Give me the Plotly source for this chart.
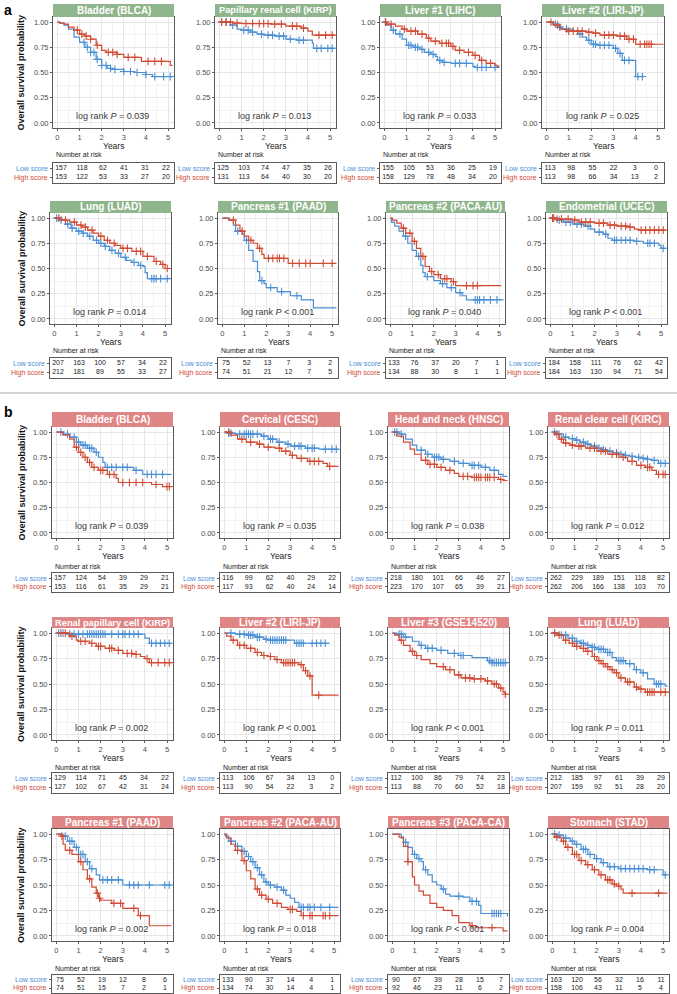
import plotly.graph_objects as go

W, H = 677, 994
BLUE = "#4A8FD4"
RED = "#D14A33"
GREEN = "#8FB58C"
PINK = "#E08585"
FONT = "Liberation Sans, Arial, Helvetica, sans-serif"

YEARS = [0, 1, 2, 3, 4, 5]
Y_TICKS = [0, 0.25, 0.5, 0.75, 1.0]
Y_TICK_LABELS = ["0.00", "0.25", "0.50", "0.75", "1.00"]

# ======================= panel a =======================
a1_title, a1_p = "Bladder (BLCA)", "= 0.039"
a1_low = [(0,1),(0.1,0.99),(0.3,0.97),(0.5,0.93),(0.75,0.85),(1.0,0.80),(1.25,0.75),(1.5,0.70),(1.75,0.63),(2.0,0.57),(2.25,0.54),(2.5,0.53),(3.0,0.51),(3.5,0.50),(4.0,0.48),(4.3,0.46),(5.2,0.46)]
a1_low_c = [1.2,1.35,1.5,1.65,1.8,2.0,2.2,2.4,2.6,3.0,3.3,3.6,4.0,4.4,4.8,5.1]
a1_high = [(0,1),(0.1,0.99),(0.3,0.98),(0.5,0.95),(0.75,0.92),(1.0,0.88),(1.25,0.86),(1.5,0.83),(1.75,0.77),(2.0,0.72),(2.2,0.70),(2.7,0.68),(3.0,0.65),(3.8,0.61),(5.1,0.57),(5.2,0.57)]
a1_high_c = [0.9,1.1,1.3,1.5,1.8,2.3,2.5,2.7,3.2,3.5,4.1,4.4,4.7]
a1_risk_low = [157,118,62,41,31,22]
a1_risk_high = [153,122,53,33,27,20]

a2_title, a2_p = "Papillary renal cell (KIRP)", "= 0.013"
a2_low = [(0,1),(0.5,0.97),(0.8,0.93),(1.0,0.92),(1.4,0.90),(1.7,0.88),(2.0,0.87),(2.5,0.86),(3.0,0.83),(3.5,0.82),(4.2,0.79),(4.25,0.74),(5.2,0.74)]
a2_low_c = [0.1,0.3,0.6,1.1,1.3,1.5,1.9,2.2,2.4,2.7,2.9,3.2,3.6,3.8,4.4,4.6,4.9,5.1]
a2_high = [(0,1),(0.6,0.99),(1.0,0.985),(2.3,0.98),(3.0,0.96),(3.7,0.94),(4.0,0.91),(4.2,0.87),(5.2,0.87)]
a2_high_c = [0.1,0.3,0.5,0.8,1.2,1.5,1.8,2.0,2.2,2.5,2.8,3.3,3.5,3.8,4.5,4.8,5.1]
a2_risk_low = [125,103,74,47,35,26]
a2_risk_high = [131,113,64,40,30,20]

a3_title, a3_p = "Liver #1 (LIHC)", "= 0.033"
a3_low = [(0,1),(0.1,0.97),(0.3,0.92),(0.5,0.88),(0.8,0.83),(1.0,0.77),(1.3,0.75),(1.6,0.73),(1.8,0.70),(2.1,0.68),(2.3,0.66),(2.4,0.62),(2.6,0.60),(3.0,0.59),(4.0,0.56),(4.1,0.55),(5.2,0.55)]
a3_low_c = [0.05,0.4,0.7,1.1,1.2,1.4,1.5,1.7,2.0,2.2,2.5,2.7,3.2,3.4,3.7,4.2,4.4,4.6,5.0]
a3_high = [(0,1),(0.1,0.98),(0.5,0.96),(0.8,0.93),(1.0,0.91),(1.5,0.88),(1.9,0.84),(2.1,0.81),(2.5,0.79),(3.0,0.76),(3.2,0.72),(3.6,0.70),(4.0,0.67),(4.3,0.62),(4.6,0.59),(5.0,0.57),(5.1,0.56),(5.2,0.56)]
a3_high_c = [0.05,0.3,0.9,1.2,1.4,1.7,2.0,2.3,2.6,2.8,2.9,3.1,3.4,3.8,4.1,4.4,4.8]
a3_risk_low = [155,105,53,36,25,19]
a3_risk_high = [158,129,78,48,34,20]

a4_title, a4_p = "Liver #2 (LIRI-JP)", "= 0.025"
a4_low = [(0,1),(0.3,0.98),(0.5,0.95),(0.7,0.93),(1.2,0.91),(1.4,0.88),(1.6,0.85),(1.8,0.82),(2.0,0.78),(2.3,0.77),(3.0,0.74),(3.2,0.69),(3.4,0.62),(4.0,0.46),(4.35,0.46)]
a4_low_c = [0.4,0.6,0.9,1.5,1.9,2.1,2.2,2.4,2.6,2.8,3.1,3.3,3.5,3.7,4.1,4.3]
a4_high = [(0,1),(0.3,0.97),(0.6,0.93),(0.9,0.91),(1.8,0.90),(2.1,0.89),(2.4,0.87),(3.2,0.86),(3.6,0.83),(4.0,0.78),(5.25,0.78)]
a4_high_c = [0.2,0.5,1.0,1.2,1.4,1.6,1.9,2.2,2.6,2.8,3.0,3.3,3.5,3.7,3.9,4.2,4.4,4.5,4.6,4.7]
a4_risk_low = [113,98,55,22,3,0]
a4_risk_high = [113,98,66,34,13,2]

a5_title, a5_p = "Lung (LUAD)", "= 0.014"
a5_low = [(0,1),(0.2,0.98),(0.5,0.94),(0.75,0.90),(1.0,0.87),(1.25,0.85),(1.5,0.82),(1.75,0.78),(2.0,0.75),(2.25,0.72),(2.5,0.68),(2.75,0.65),(3.0,0.61),(3.25,0.58),(3.5,0.56),(3.8,0.53),(4.0,0.52),(4.1,0.46),(4.2,0.40),(5.2,0.40)]
a5_low_c = [0.1,0.3,0.6,0.8,1.1,1.3,1.6,1.9,2.1,2.3,2.6,2.9,3.2,3.6,3.9,4.4,4.5,4.6,4.8,5.1]
a5_high = [(0,1),(0.3,0.98),(0.7,0.96),(1.0,0.93),(1.25,0.91),(1.5,0.88),(1.75,0.85),(2.0,0.82),(2.25,0.78),(2.5,0.75),(2.75,0.73),(3.0,0.70),(3.5,0.67),(4.0,0.62),(4.5,0.57),(4.8,0.54),(5.0,0.50),(5.2,0.50)]
a5_high_c = [0.2,0.5,0.9,1.2,1.4,1.7,2.1,2.4,2.7,3.1,3.3,3.7,3.9,4.2,4.6,4.9,5.1]
a5_risk_low = [207,163,100,57,34,22]
a5_risk_high = [212,181,89,55,33,27]

a6_title, a6_p = "Pancreas #1 (PAAD)", "< 0.001"
a6_low = [(0,1),(0.3,0.98),(0.5,0.93),(0.6,0.87),(0.9,0.84),(1.0,0.78),(1.2,0.68),(1.4,0.57),(1.6,0.47),(1.7,0.38),(1.9,0.35),(2.0,0.31),(2.5,0.27),(3.1,0.23),(3.6,0.19),(4.15,0.11),(5.2,0.11)]
a6_low_c = [0.7,1.1,1.8,2.2,2.7,3.4]
a6_high = [(0,1),(0.3,0.98),(0.6,0.93),(0.8,0.87),(1.0,0.82),(1.2,0.78),(1.4,0.75),(1.6,0.70),(1.8,0.64),(1.9,0.60),(3.0,0.55),(5.2,0.55)]
a6_high_c = [0.5,0.9,1.3,1.7,2.1,2.3,2.5,2.6,2.8,3.2,3.5,3.8,4.0,4.6,5.0]
a6_risk_low = [75,52,13,7,3,2]
a6_risk_high = [74,51,21,12,7,5]

a7_title, a7_p = "Pancreas #2 (PACA-AU)", "= 0.040"
a7_low = [(0,1),(0.05,0.96),(0.2,0.92),(0.4,0.87),(0.6,0.82),(0.8,0.75),(1.0,0.68),(1.2,0.62),(1.4,0.53),(1.5,0.46),(1.6,0.42),(2.0,0.38),(2.3,0.35),(2.6,0.31),(3.0,0.26),(3.3,0.23),(3.5,0.19),(5.2,0.19)]
a7_low_c = [0.7,1.3,1.7,2.4,2.8,3.2,3.9,4.0,4.1,4.3,4.6,4.9]
a7_high = [(0,1),(0.1,0.98),(0.3,0.95),(0.5,0.90),(0.7,0.85),(1.0,0.77),(1.2,0.70),(1.4,0.62),(1.6,0.52),(1.8,0.47),(2.0,0.44),(2.3,0.40),(2.8,0.37),(3.0,0.33),(5.1,0.33)]
a7_high_c = [0.6,0.9,1.1,1.5,1.9,2.2,2.5,2.6,2.9,3.5,3.8,4.0]
a7_risk_low = [133,76,37,20,7,1]
a7_risk_high = [134,88,30,8,1,1]

a8_title, a8_p = "Endometrial (UCEC)", "< 0.001"
a8_low = [(0,1),(0.3,0.98),(0.6,0.96),(1.0,0.94),(1.5,0.92),(1.8,0.89),(2.0,0.86),(2.4,0.84),(2.6,0.80),(2.8,0.78),(3.8,0.77),(4.2,0.75),(4.9,0.73),(5.0,0.70),(5.2,0.70)]
a8_low_c = [0.1,0.4,0.7,0.9,1.2,1.4,1.7,2.2,2.5,2.9,3.0,3.2,3.4,3.6,3.9,4.4,4.5,4.7,5.1]
a8_high = [(0,1),(0.2,0.99),(1.0,0.98),(1.3,0.96),(2.0,0.95),(2.6,0.93),(3.0,0.92),(3.5,0.91),(3.8,0.89),(4.0,0.88),(5.2,0.88)]
a8_high_c = [0.1,0.15,0.3,0.5,0.8,1.1,1.4,1.6,1.8,2.2,2.4,2.7,2.9,3.2,3.4,3.6,4.1,4.3,4.5,4.7,4.9,5.1]
a8_risk_low = [184,158,111,76,62,42]
a8_risk_high = [184,163,130,94,71,54]

# ======================= panel b =======================
b1_title, b1_p = "Bladder (BLCA)", "= 0.039"
b1_low = [(0,1),(0.3,0.98),(0.6,0.95),(0.9,0.90),(1.1,0.87),(1.4,0.84),(1.7,0.80),(1.9,0.75),(2.1,0.70),(2.2,0.65),(3.5,0.62),(3.9,0.58),(5.2,0.58)]
b1_low_c = [0.2,0.5,0.8,1.0,1.2,1.3,1.5,1.6,1.8,2.3,2.5,2.7,3.0,3.2,3.6,4.1,4.3,4.5,4.8]
b1_high = [(0,1),(0.3,0.97),(0.6,0.93),(0.8,0.85),(1.0,0.80),(1.2,0.75),(1.4,0.70),(1.6,0.65),(1.9,0.62),(2.3,0.58),(2.7,0.54),(2.8,0.50),(4.3,0.48),(4.8,0.46),(5.2,0.46)]
b1_high_c = [0.9,1.1,1.3,1.5,1.7,2.0,2.1,2.4,2.6,3.0,3.3,3.6,3.9,4.5,5.0,5.1]
b1_risk_low = [157,124,54,39,29,21]
b1_risk_high = [153,116,61,35,29,21]

b2_title, b2_p = "Cervical (CESC)", "= 0.035"
b2_low = [(0,1),(0.1,0.99),(0.5,0.98),(1.7,0.96),(2.0,0.93),(2.4,0.90),(2.8,0.88),(3.0,0.86),(3.7,0.84),(4.3,0.83),(5.2,0.83)]
b2_low_c = [0.2,0.3,0.7,0.9,1.0,1.1,1.2,1.3,1.5,1.8,2.1,2.2,2.5,2.9,3.2,3.4,3.5,3.8,4.0,4.1,4.6,4.9,5.1]
b2_high = [(0,1),(0.3,0.97),(0.6,0.93),(1.0,0.90),(1.5,0.88),(1.8,0.85),(2.3,0.84),(2.6,0.81),(3.0,0.77),(3.3,0.74),(3.8,0.71),(4.5,0.69),(4.7,0.66),(5.2,0.66)]
b2_high_c = [0.2,0.8,1.2,1.6,2.0,2.5,2.8,3.1,3.5,3.9,4.1,4.3,4.8]
b2_risk_low = [116,99,62,40,29,22]
b2_risk_high = [117,93,62,40,24,14]

b3_title, b3_p = "Head and neck (HNSC)", "= 0.038"
b3_low = [(0,1),(0.3,0.98),(0.6,0.93),(0.9,0.87),(1.1,0.82),(1.5,0.78),(1.8,0.75),(2.2,0.73),(2.6,0.71),(3.0,0.69),(3.5,0.67),(4.0,0.65),(4.4,0.62),(4.8,0.58),(5.0,0.56),(5.2,0.56)]
b3_low_c = [0.1,0.2,0.4,1.3,1.6,1.9,2.0,2.1,2.3,2.8,3.2,3.6,3.7,3.9,4.2,4.6]
b3_high = [(0,1),(0.2,0.96),(0.5,0.90),(0.8,0.83),(1.0,0.78),(1.3,0.72),(1.6,0.68),(2.0,0.65),(2.4,0.62),(2.8,0.59),(3.0,0.56),(3.6,0.55),(4.8,0.53),(5.0,0.52),(5.2,0.52)]
b3_high_c = [1.5,1.7,1.9,2.2,2.6,3.2,3.4,3.7,3.8,3.9,4.0,4.2,4.3,4.4,4.6,4.9]
b3_risk_low = [218,180,101,66,46,27]
b3_risk_high = [223,170,107,65,39,21]

b4_title, b4_p = "Renal clear cell (KIRC)", "= 0.012"
b4_low = [(0,1),(0.2,0.98),(0.5,0.95),(0.75,0.935),(1.0,0.92),(1.25,0.90),(1.5,0.88),(1.75,0.86),(2.0,0.84),(2.25,0.825),(2.5,0.81),(2.75,0.795),(3.0,0.78),(3.25,0.77),(3.5,0.76),(3.75,0.75),(4.0,0.74),(4.25,0.73),(4.5,0.72),(4.8,0.69),(5.2,0.69)]
b4_low_c = [0.1,0.3,0.6,0.9,1.1,1.4,1.6,1.9,2.1,2.3,2.6,2.9,3.1,3.3,3.6,3.9,4.1,4.3,4.6,4.9,5.1]
b4_high = [(0,1),(0.1,0.98),(0.3,0.93),(0.5,0.89),(0.8,0.87),(1.0,0.86),(1.5,0.84),(2.0,0.81),(2.5,0.78),(3.0,0.75),(3.4,0.71),(3.8,0.67),(4.2,0.65),(4.5,0.62),(4.7,0.58),(5.2,0.58)]
b4_high_c = [0.2,0.4,0.6,0.9,1.2,1.3,1.7,1.9,2.2,2.4,2.7,2.9,3.2,3.6,4.0,4.3,4.4,4.8,5.0,5.1]
b4_risk_low = [262,229,189,151,118,82]
b4_risk_high = [262,206,166,138,103,70]

b5_title, b5_p = "Renal papillary cell (KIRP)", "= 0.002"
b5_low = [(0,1),(0.5,0.99),(4.0,0.95),(4.2,0.90),(5.2,0.90)]
b5_low_c = [0.1,0.3,0.6,0.8,1.0,1.2,1.4,1.5,1.6,1.7,1.8,1.9,2.0,2.1,2.2,2.5,2.8,3.0,3.1,3.3,3.5,3.7,4.3,4.5,4.7,4.9,5.1]
b5_high = [(0,1),(0.6,0.97),(0.9,0.93),(1.0,0.92),(1.5,0.90),(1.8,0.87),(2.2,0.85),(2.6,0.83),(3.0,0.80),(3.5,0.79),(3.8,0.77),(4.0,0.75),(4.2,0.71),(5.2,0.71)]
b5_high_c = [0.2,0.4,0.7,1.1,1.3,1.6,1.9,2.0,2.4,2.5,2.8,3.2,3.4,3.6,4.1,4.3,4.6,4.9,5.1]
b5_risk_low = [129,114,71,45,34,22]
b5_risk_high = [127,102,67,42,31,24]

b6_title, b6_p = "Liver #2 (LIRI-JP)", "< 0.001"
b6_low = [(0,1),(0.5,0.99),(1.0,0.98),(1.4,0.96),(1.8,0.94),(2.0,0.93),(3.2,0.90),(4.8,0.90)]
b6_low_c = [0.3,0.7,0.9,1.1,1.2,1.3,1.5,1.6,1.9,2.1,2.2,2.3,2.4,2.5,2.6,2.7,2.8,3.3,3.4,3.5,3.6,4.0,4.2,4.4,4.6]
b6_high = [(0,1),(0.1,0.97),(0.3,0.93),(0.6,0.88),(1.0,0.85),(1.4,0.81),(1.7,0.78),(2.0,0.77),(2.3,0.74),(2.6,0.71),(3.4,0.69),(3.6,0.63),(3.8,0.58),(4.0,0.39),(5.2,0.39)]
b6_high_c = [0.4,0.7,0.9,1.2,1.5,1.8,2.1,2.4,2.7,2.8,2.9,3.0,3.1,3.2,3.5,3.7,3.9,4.3]
b6_risk_low = [113,106,67,34,13,0]
b6_risk_high = [113,90,54,22,3,2]

b7_title, b7_p = "Liver #3 (GSE14520)", "< 0.001"
b7_low = [(0,1),(0.2,0.99),(0.5,0.96),(0.9,0.92),(1.2,0.88),(1.5,0.85),(2.0,0.83),(2.5,0.80),(3.0,0.78),(3.6,0.76),(4.3,0.73),(4.5,0.71),(5.2,0.71)]
b7_low_c = [0.3,0.4,0.6,1.3,1.6,1.8,2.2,2.8,3.1,3.2,4.4,4.5,4.6,4.7,4.8,4.9,5.0,5.1]
b7_high = [(0,1),(0.1,0.98),(0.3,0.93),(0.5,0.88),(0.8,0.82),(1.0,0.78),(1.3,0.74),(1.7,0.70),(2.0,0.67),(2.4,0.64),(2.8,0.59),(3.1,0.56),(3.6,0.55),(4.2,0.53),(4.5,0.50),(4.8,0.46),(5.0,0.42),(5.1,0.40),(5.2,0.40)]
b7_high_c = [0.4,0.9,1.1,2.3,2.6,3.0,3.3,3.5,3.7,4.0,4.3,4.6,4.7,4.9,5.1]
b7_risk_low = [112,100,86,79,74,23]
b7_risk_high = [113,88,70,60,52,18]

b8_title, b8_p = "Lung (LUAD)", "= 0.011"
b8_low = [(0,1),(0.3,0.98),(0.7,0.95),(1.0,0.92),(1.25,0.90),(1.5,0.88),(1.75,0.86),(2.0,0.84),(2.4,0.81),(2.7,0.76),(2.9,0.73),(3.3,0.70),(3.7,0.64),(4.0,0.61),(4.3,0.55),(4.6,0.50),(5.1,0.48),(5.2,0.48)]
b8_low_c = [0.1,0.4,0.6,0.9,1.1,1.3,1.4,1.6,1.8,1.9,2.1,2.2,2.3,2.5,2.6,3.0,3.1,3.2,3.5,3.8,4.1,4.7,4.8,4.9]
b8_high = [(0,1),(0.2,0.98),(0.5,0.93),(0.75,0.90),(1.0,0.87),(1.25,0.85),(1.5,0.82),(1.8,0.77),(2.0,0.73),(2.2,0.70),(2.4,0.67),(2.6,0.64),(2.8,0.61),(3.0,0.56),(3.3,0.52),(3.7,0.47),(3.9,0.45),(4.2,0.42),(5.2,0.42)]
b8_high_c = [0.1,0.3,0.6,0.9,1.1,1.4,1.6,1.9,2.1,2.3,2.5,2.7,2.9,3.1,3.4,3.5,3.8,4.0,4.3,4.4,4.5,4.6,4.9,5.1]
b8_risk_low = [212,185,97,61,39,29]
b8_risk_high = [207,159,92,51,28,20]

b9_title, b9_p = "Pancreas #1 (PAAD)", "= 0.002"
b9_low = [(0,1),(0.3,0.98),(0.5,0.93),(0.8,0.87),(1.0,0.80),(1.3,0.73),(1.5,0.66),(1.8,0.60),(1.95,0.55),(3.0,0.50),(5.2,0.50)]
b9_low_c = [0.4,0.6,0.7,0.9,1.1,1.2,1.4,1.6,2.1,2.3,2.5,2.8,3.3,3.5,3.7,4.2,4.9,5.1]
b9_high = [(0,1),(0.2,0.98),(0.3,0.90),(0.4,0.84),(0.7,0.80),(1.0,0.73),(1.2,0.65),(1.4,0.56),(1.6,0.48),(1.8,0.42),(1.9,0.37),(2.0,0.35),(2.5,0.32),(3.0,0.27),(3.7,0.20),(4.2,0.10),(5.2,0.10)]
b9_high_c = [0.25,0.6,1.1,1.5,1.85,1.95,2.6,2.9,3.5,3.8]
b9_risk_low = [75,52,19,12,8,6]
b9_risk_high = [74,51,15,7,2,1]

b10_title, b10_p = "Pancreas #2 (PACA-AU)", "= 0.018"
b10_low = [(0,1),(0.05,0.98),(0.2,0.93),(0.5,0.88),(0.8,0.83),(1.0,0.78),(1.2,0.73),(1.4,0.67),(1.6,0.60),(1.8,0.53),(2.0,0.50),(2.3,0.48),(2.6,0.45),(2.8,0.40),(3.0,0.37),(3.2,0.33),(3.4,0.28),(5.2,0.28)]
b10_low_c = [0.3,0.6,0.9,1.1,1.3,1.5,1.7,1.9,2.1,2.4,2.7,3.5,3.6,3.8,3.9,4.1,4.4,4.8]
b10_high = [(0,1),(0.1,0.96),(0.3,0.90),(0.5,0.84),(0.8,0.74),(1.0,0.64),(1.2,0.56),(1.4,0.46),(1.6,0.40),(1.9,0.36),(2.2,0.32),(2.6,0.28),(2.9,0.26),(3.3,0.24),(3.5,0.20),(5.2,0.20)]
b10_high_c = [0.6,0.9,1.5,1.7,2.0,2.4,3.0,3.1,3.6,3.9,4.0,4.5,4.6,4.8]
b10_risk_low = [133,90,37,14,4,1]
b10_risk_high = [134,74,30,14,4,1]

b11_title, b11_p = "Pancreas #3 (PACA-CA)", "< 0.001"
b11_low = [(0,1),(0.4,0.96),(0.5,0.92),(0.7,0.87),(0.9,0.80),(1.1,0.76),(1.3,0.73),(1.4,0.65),(1.6,0.60),(1.8,0.53),(2.0,0.50),(2.2,0.46),(2.4,0.41),(2.6,0.39),(3.2,0.38),(3.5,0.34),(3.9,0.30),(4.0,0.22),(5.15,0.22),(5.2,0.19)]
b11_low_c = [0.6,1.0,1.2,1.5,2.3,3.0,3.6,3.8,4.5,4.6,4.7,4.8,4.9]
b11_high = [(0,1),(0.3,0.97),(0.5,0.88),(0.7,0.73),(0.9,0.58),(1.0,0.50),(1.2,0.44),(1.4,0.40),(1.7,0.32),(2.0,0.28),(2.3,0.25),(2.7,0.20),(3.0,0.13),(3.5,0.10),(3.8,0.08),(5.0,0.05),(5.2,0.05)]
b11_high_c = [0.7,3.6,4.5]
b11_risk_low = [90,67,39,28,15,7]
b11_risk_high = [92,46,23,11,6,2]

b12_title, b12_p = "Stomach (STAD)", "= 0.004"
b12_low = [(0,1),(0.2,0.99),(0.5,0.96),(0.8,0.93),(1.0,0.90),(1.3,0.85),(1.6,0.80),(1.9,0.76),(2.2,0.72),(2.5,0.68),(3.0,0.66),(4.3,0.65),(5.0,0.60),(5.2,0.60)]
b12_low_c = [0.1,0.3,0.6,0.9,1.1,1.4,1.5,1.7,2.0,2.3,2.6,2.8,3.1,3.3,3.5,3.7,3.9,4.1,4.4,4.6,5.1]
b12_high = [(0,1),(0.1,0.97),(0.4,0.93),(0.6,0.87),(0.9,0.80),(1.2,0.74),(1.5,0.70),(1.8,0.65),(2.1,0.60),(2.4,0.55),(2.7,0.51),(2.9,0.49),(3.1,0.46),(3.2,0.42),(5.2,0.42)]
b12_high_c = [0.2,0.5,0.7,1.0,1.1,1.3,1.6,1.9,2.2,2.5,2.6,2.8,3.0,3.6,4.8]
b12_risk_low = [163,120,56,32,16,11]
b12_risk_high = [158,106,43,11,5,4]

g = globals()
PANELS = []
for i in range(8):
    PANELS.append(dict(group="a", row=i // 4, col=i % 4, key=f"a{i+1}"))
for i in range(12):
    PANELS.append(dict(group="b", row=i // 4, col=i % 4, key=f"b{i+1}"))

# ---------------- layout geometry (pixels) ----------------
ROWS = {
    ("a", 0): dict(strip=(4, 17), plot=(17, 128), nar=155, table=(163, 183)),
    ("a", 1): dict(strip=(201, 213), plot=(213, 324), nar=350, table=(358, 378)),
    ("b", 0): dict(strip=(412, 427), plot=(427, 538), nar=566, table=(573, 592)),
    ("b", 1): dict(strip=(617, 628), plot=(628, 740), nar=767, table=(773, 793)),
    ("b", 2): dict(strip=(816, 828), plot=(829, 941), nar=968, table=(975, 993)),
}
COLS = {
    ("a", 0): [(53, 174), (215, 336), (380, 501), (542, 664)],
    ("a", 1): [(50, 171), (218, 338), (386, 505), (546, 667)],
    ("b", 0): [(52, 173), (220, 340), (388, 509), (548, 669)],
    ("b", 1): [(52, 173), (220, 340), (388, 509), (548, 669)],
    ("b", 2): [(52, 173), (220, 340), (388, 509), (548, 669)],
}


def px(x):
    return x / W


def py(y):
    return 1 - y / H


def step_eval(curve, t):
    v = curve[0][1]
    for tt, s in curve:
        if tt <= t:
            v = s
        else:
            break
    return v


fig = go.Figure()
layout = dict(width=W, height=H, margin=dict(l=0, r=0, t=0, b=0), autosize=False,
              paper_bgcolor="white", plot_bgcolor="white", showlegend=False,
              font=dict(family=FONT, color="#333333"))
annotations = []
shapes = []

TICKFONT = dict(family=FONT, size=7.5, color="#4D4D4D")
BORDER = "#5A5A5A"

for k, P in enumerate(PANELS):
    key = P["key"]
    grp, r, c = P["group"], P["row"], P["col"]
    R = ROWS[(grp, r)]
    l, rr = COLS[(grp, r)][c]
    title = g[key + "_title"]
    pval = g[key + "_p"]
    low, high = g[key + "_low"], g[key + "_high"]
    low_c, high_c = g[key + "_low_c"], g[key + "_high_c"]
    risk_low, risk_high = g[key + "_risk_low"], g[key + "_risk_high"]

    ia = 2 * k + 1
    it = 2 * k + 2
    xa = "xaxis" if ia == 1 else f"xaxis{ia}"
    ya = "yaxis" if ia == 1 else f"yaxis{ia}"
    xr = "x" if ia == 1 else f"x{ia}"
    yr = "y" if ia == 1 else f"y{ia}"
    xta, yta = f"xaxis{it}", f"yaxis{it}"
    xtr, ytr = f"x{it}", f"y{it}"

    top, bot = R["plot"]
    layout[xa] = dict(domain=[px(l), px(rr)], anchor=yr, range=[-0.2, 5.27],
                      tickvals=YEARS, ticks="outside", ticklen=2, tickcolor=BORDER,
                      tickfont=TICKFONT, showline=True, mirror=True, linecolor=BORDER,
                      linewidth=1, showgrid=True, gridcolor="#E6E6E6", gridwidth=0.8,
                      minor=dict(tickvals=[0.5, 1.5, 2.5, 3.5, 4.5], showgrid=True,
                                 gridcolor="#F3F3F3", gridwidth=0.6),
                      zeroline=False, fixedrange=True)
    layout[ya] = dict(domain=[py(bot), py(top)], anchor=xr, range=[-0.05, 1.05],
                      tickvals=Y_TICKS, ticktext=Y_TICK_LABELS, ticks="outside", ticklen=2,
                      tickcolor=BORDER, tickfont=TICKFONT, showline=True, mirror=True,
                      linecolor=BORDER, linewidth=1, showgrid=True, gridcolor="#E6E6E6",
                      gridwidth=0.8,
                      minor=dict(tickvals=[0.125, 0.375, 0.625, 0.875], showgrid=True,
                                 gridcolor="#F3F3F3", gridwidth=0.6),
                      zeroline=False, fixedrange=True)

    for curve, cens, col in ((low, low_c, BLUE), (high, high_c, RED)):
        fig.add_trace(go.Scatter(x=[p[0] for p in curve], y=[p[1] for p in curve],
                                 mode="lines", line=dict(color=col, width=1.2, shape="hv"),
                                 xaxis=xr, yaxis=yr, hoverinfo="skip"))
        fig.add_trace(go.Scatter(x=cens, y=[step_eval(curve, t) for t in cens],
                                 mode="markers",
                                 marker=dict(symbol="cross-thin", size=5.5,
                                             line=dict(color=col, width=1.1)),
                                 xaxis=xr, yaxis=yr, hoverinfo="skip"))

    # log-rank p value
    annotations.append(dict(x=2.5, y=0.07, xref=xr, yref=yr, showarrow=False,
                            xanchor="center", yanchor="middle",
                            text=f"log rank <i>P</i> {pval}",
                            font=dict(family=FONT, size=9, color="#3A3A3A")))
    # Years
    annotations.append(dict(x=px((l + rr) / 2), y=py(bot + 18), xref="paper", yref="paper",
                            showarrow=False, text="Years", xanchor="center", yanchor="middle",
                            font=dict(family=FONT, size=8.5, color="#222222")))
    # strip
    s0, s1 = R["strip"]
    shapes.append(dict(type="rect", xref="paper", yref="paper", x0=px(l), x1=px(rr),
                       y0=py(s1), y1=py(s0), fillcolor=GREEN if grp == "a" else PINK,
                       line=dict(width=0), layer="above"))
    tsize = 10 if len(title) < 24 else 9.3
    annotations.append(dict(x=px((l + rr) / 2), y=py((s0 + s1) / 2), xref="paper", yref="paper",
                            showarrow=False, text=f"<b>{title}</b>", xanchor="center",
                            yanchor="middle",
                            font=dict(family=FONT, size=tsize, color="white")))
    # y title
    if c == 0:
        annotations.append(dict(x=px(21), y=py((top + bot) / 2), xref="paper", yref="paper",
                                showarrow=False, text="<b>Overall survival probability</b>",
                                textangle=-90, xanchor="center", yanchor="middle",
                                font=dict(family=FONT, size=9, color="#111111")))

    # risk table
    t0, t1 = R["table"]
    layout[xta] = dict(domain=[px(l), px(rr)], anchor=ytr, range=[-0.38, 5.38],
                       showticklabels=False, ticks="", showgrid=False, zeroline=False,
                       showline=True, mirror=True, linecolor=BORDER, linewidth=1,
                       fixedrange=True)
    layout[yta] = dict(domain=[py(t1), py(t0)], anchor=xtr, range=[0, 1],
                       tickvals=[0.27, 0.73], showticklabels=False, ticks="outside",
                       ticklen=2, tickcolor=BORDER, showgrid=False, zeroline=False,
                       showline=True, mirror=True, linecolor=BORDER, linewidth=1,
                       fixedrange=True)
    fig.add_trace(go.Scatter(x=YEARS, y=[0.73] * 6, mode="text",
                             text=[str(v) for v in risk_low],
                             textfont=dict(family=FONT, size=7, color="#222222"),
                             xaxis=xtr, yaxis=ytr, hoverinfo="skip"))
    fig.add_trace(go.Scatter(x=YEARS, y=[0.27] * 6, mode="text",
                             text=[str(v) for v in risk_high],
                             textfont=dict(family=FONT, size=7, color="#222222"),
                             xaxis=xtr, yaxis=ytr, hoverinfo="skip"))
    th = t1 - t0
    annotations.append(dict(x=px(l - 3), y=py(t0 + th * 0.27), xref="paper", yref="paper",
                            showarrow=False, text="Low score", xanchor="right",
                            yanchor="middle", font=dict(family=FONT, size=7, color=BLUE)))
    annotations.append(dict(x=px(l - 3), y=py(t0 + th * 0.73), xref="paper", yref="paper",
                            showarrow=False, text="High score", xanchor="right",
                            yanchor="middle", font=dict(family=FONT, size=7, color=RED)))
    annotations.append(dict(x=px(l + 1), y=py(R["nar"]), xref="paper", yref="paper",
                            showarrow=False, text="Number at risk", xanchor="left",
                            yanchor="middle", font=dict(family=FONT, size=7, color="#222222")))

# panel letters and separator
annotations.append(dict(x=px(2), y=py(10), xref="paper", yref="paper", showarrow=False,
                        text="<b>a</b>", xanchor="left", yanchor="middle",
                        font=dict(family=FONT, size=14, color="#000000")))
annotations.append(dict(x=px(2), y=py(412), xref="paper", yref="paper", showarrow=False,
                        text="<b>b</b>", xanchor="left", yanchor="middle",
                        font=dict(family=FONT, size=14, color="#000000")))
shapes.append(dict(type="line", xref="paper", yref="paper", x0=0, x1=1, y0=py(393),
                   y1=py(393), line=dict(color="#C4C4C4", width=1.5)))

layout["annotations"] = annotations
layout["shapes"] = shapes
fig.update_layout(**layout)
fig.write_html("out.html", config={"displayModeBar": False},
               post_script="document.body.style.margin='0';document.body.style.overflow='hidden';")
